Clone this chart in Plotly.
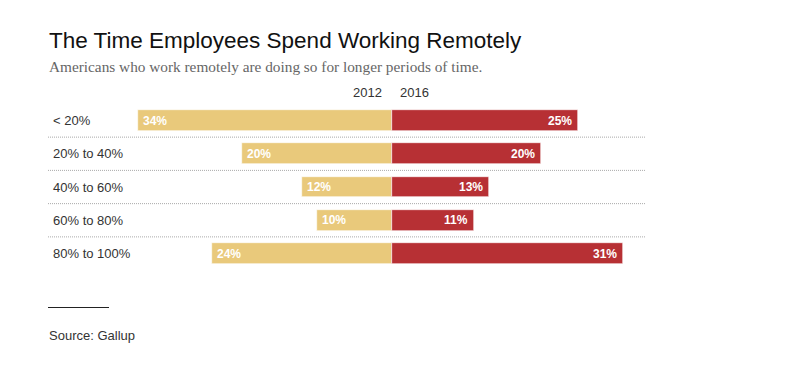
import plotly.graph_objects as go

categories = ["< 20%", "20% to 40%", "40% to 60%", "60% to 80%", "80% to 100%"]
values_2012 = [34, 20, 12, 10, 24]
values_2016 = [25, 20, 13, 11, 31]
years = ["2012", "2016"]

W, H = 787, 376
OFF = 8.0        # page body margin in browser
CX = 391.5 - OFF  # pixel of center within figure
PX_PER = 7.47     # pixels per percentage point
ROW0 = 120.5 - OFF
ROW_STEP = 33.25

x_lo = -CX / PX_PER
x_hi = (W - CX) / PX_PER
y_top = -ROW0 / ROW_STEP
y_bot = (H - ROW0) / ROW_STEP

idx = list(range(len(categories)))
tan = "#E9C97B"
red = "#B73034"


def px_x(p):
    return (p - OFF) / W


def px_y(p):
    return 1 - (p - OFF) / H


fig = go.Figure()
fig.add_trace(go.Bar(y=idx, x=[-v for v in values_2012], orientation="h", base=0,
                     marker=dict(color=tan, line=dict(color="white", width=0.6)),
                     width=0.63, name=years[0], hoverinfo="skip"))
fig.add_trace(go.Bar(y=idx, x=values_2016, orientation="h", base=0,
                     marker=dict(color=red, line=dict(color="white", width=0.6)),
                     width=0.63, name=years[1], hoverinfo="skip"))

annotations = []
lab_font = dict(family="Liberation Sans, Arial, sans-serif", size=12, color="white", weight="bold")
for i, (a, b) in enumerate(zip(values_2012, values_2016)):
    annotations.append(dict(x=-a, y=i, xref="x", yref="y", text=f"{a}%", showarrow=False,
                            xanchor="left", xshift=3, font=lab_font))
    annotations.append(dict(x=b, y=i, xref="x", yref="y", text=f"{b}%", showarrow=False,
                            xanchor="right", xshift=-4, font=lab_font))
    annotations.append(dict(x=px_x(51), y=i, xref="paper", yref="y", text=categories[i],
                            showarrow=False, xanchor="left",
                            font=dict(family="Liberation Sans, Arial, sans-serif", size=13, color="#333")))

hdr_font = dict(family="Liberation Sans, Arial, sans-serif", size=13, color="#333")
hdr_y = (92 - OFF - ROW0) / ROW_STEP
annotations.append(dict(x=0, y=hdr_y, xref="x", yref="y", text=years[0],
                        showarrow=False, xanchor="right", xshift=-8, font=hdr_font))
annotations.append(dict(x=0, y=hdr_y, xref="x", yref="y", text=years[1],
                        showarrow=False, xanchor="left", xshift=6, font=hdr_font))

annotations.append(dict(x=px_x(47), y=px_y(40), xref="paper", yref="paper",
                        text="The Time Employees Spend Working Remotely", showarrow=False,
                        xanchor="left", yanchor="middle",
                        font=dict(family="Liberation Sans, Arial, sans-serif", size=22.5, color="#111")))
annotations.append(dict(x=px_x(47), y=px_y(66), xref="paper", yref="paper",
                        text="Americans who work remotely are doing so for longer periods of time.",
                        showarrow=False, xanchor="left", yanchor="middle",
                        font=dict(family="Liberation Serif, Georgia, serif", size=15.3, color="#666")))
annotations.append(dict(x=px_x(47), y=px_y(335), xref="paper", yref="paper",
                        text="Source: Gallup", showarrow=False, xanchor="left", yanchor="middle",
                        font=dict(family="Liberation Sans, Arial, sans-serif", size=13, color="#333")))

shapes = []
for i in range(len(categories) - 1):
    shapes.append(dict(type="line", xref="paper", yref="y", x0=px_x(48), x1=px_x(646),
                       y0=i + 0.5, y1=i + 0.5, line=dict(color="#aaa", width=1, dash="1px,1px")))
shapes.append(dict(type="line", xref="paper", yref="paper", x0=px_x(48), x1=px_x(109),
                   y0=px_y(307.5), y1=px_y(307.5), line=dict(color="#222", width=1)))

fig.update_layout(
    width=W, height=H, margin=dict(l=0, r=0, t=0, b=0),
    paper_bgcolor="white", plot_bgcolor="white",
    barmode="overlay", showlegend=False, bargap=0,
    xaxis=dict(range=[x_lo, x_hi], visible=False, fixedrange=True),
    yaxis=dict(range=[y_bot, y_top], visible=False, fixedrange=True),
    annotations=annotations, shapes=shapes,
)
fig.write_html("out.html")
